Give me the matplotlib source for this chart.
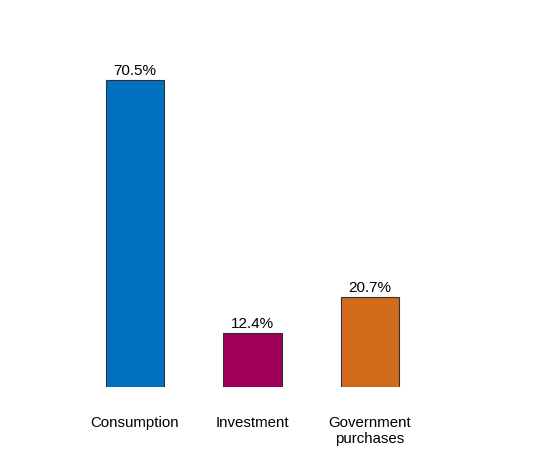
import matplotlib
matplotlib.use("Agg")
import matplotlib.pyplot as plt

categories = ["Consumption", "Investment", "Government\npurchases"]
shares = [70.5, 12.4, 20.7]
colors = ["#0070c0", "#a0005a", "#cf6b1a"]

plt.rcParams["font.family"] = ["Liberation Sans", "DejaVu Sans"]

fig = plt.figure(figsize=(5.48, 4.51), dpi=100)
ax = fig.add_axes([0, 64 / 451, 1, (451 - 64) / 451])

x = list(range(len(categories)))
bars = ax.bar(x, shares, width=0.5, color=colors, edgecolor="#333333", linewidth=0.8)

for b, v in zip(bars, shares):
    ax.annotate(f"{v}%", (b.get_x() + b.get_width() / 2, v), xytext=(0, 1.5),
                textcoords="offset points", ha="center", va="bottom", fontsize=11)

ax.set_xlim(-135 / 117.5, (548 - 135) / 117.5)
ax.set_ylim(0, (451 - 64) / 4.355)
ax.set_xticks(x)
ax.set_xticklabels(categories, fontsize=10.8, linespacing=1.15)
ax.tick_params(axis="x", length=0, pad=21)
ax.set_yticks([])
for s in ax.spines.values():
    s.set_visible(False)

fig.savefig("out.png", dpi=100)
